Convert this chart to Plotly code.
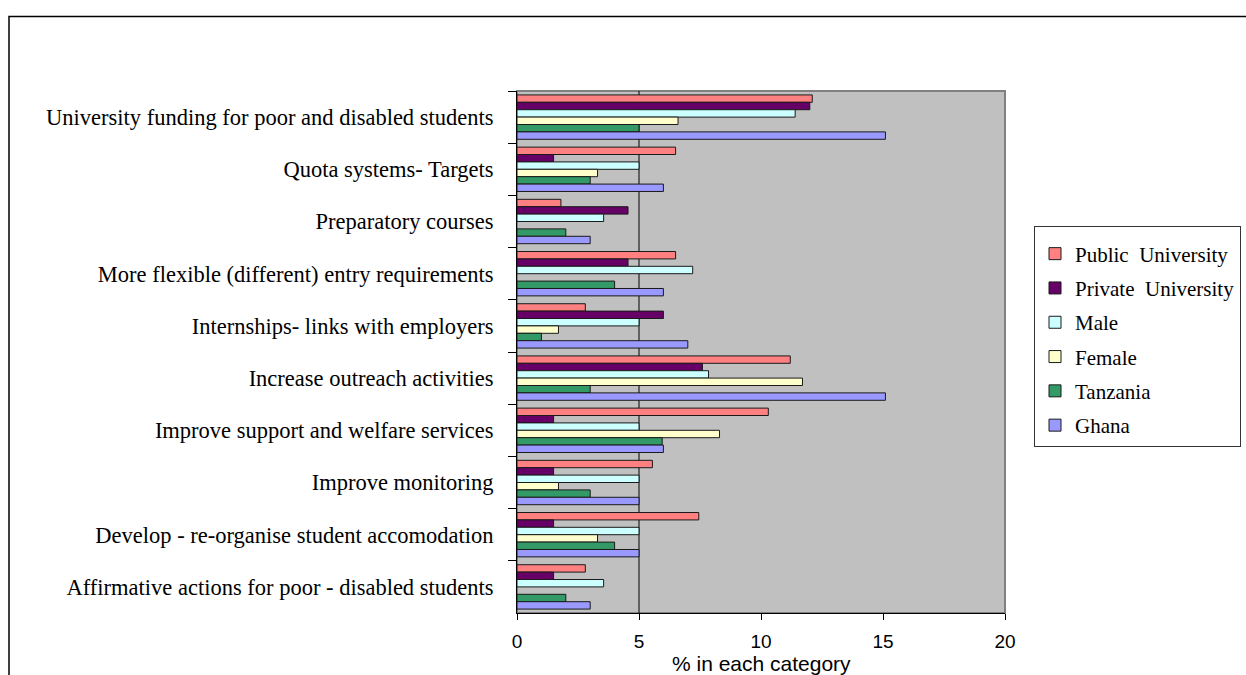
import plotly.graph_objects as go

categories = [
    "University funding for poor and disabled students",
    "Quota systems- Targets",
    "Preparatory courses",
    "More flexible (different) entry requirements",
    "Internships- links with employers",
    "Increase outreach activities",
    "Improve support and welfare services",
    "Improve monitoring",
    "Develop - re-organise student accomodation",
    "Affirmative actions for poor - disabled students",
]

public_university = [12.1, 6.5, 1.8, 6.5, 2.8, 11.2, 10.3, 5.55, 7.45, 2.8]
private_university = [12.0, 1.5, 4.55, 4.55, 6.0, 7.6, 1.5, 1.5, 1.5, 1.5]
male = [11.4, 5.0, 3.55, 7.2, 5.0, 7.85, 5.0, 5.0, 5.0, 3.55]
female = [6.6, 3.3, None, None, 1.7, 11.7, 8.3, 1.7, 3.3, None]
tanzania = [5.0, 3.0, 2.0, 4.0, 1.0, 3.0, 5.95, 3.0, 4.0, 2.0]
ghana = [15.1, 6.0, 3.0, 6.0, 7.0, 15.1, 6.0, 5.0, 5.0, 3.0]

series_names = ["Public\u00a0\u00a0University", "Private\u00a0\u00a0University", "Male", "Female", "Tanzania", "Ghana"]
series_values = [public_university, private_university, male, female, tanzania, ghana]
series_colors = ["#FF8080", "#660066", "#CCFFFF", "#FFFFCC", "#339966", "#9999FF"]

x_ticks = [0, 5, 10, 15, 20]

SERIF = "Liberation Serif"
SANS = "Liberation Sans"

fig = go.Figure()
for i, (name, vals, col) in enumerate(zip(series_names, series_values, series_colors)):
    fig.add_trace(go.Bar(
        y=categories, x=vals, name=name, orientation="h",
        marker=dict(color=col, line=dict(color="#1a1a1a", width=1)),
        legendgroup="g%d" % i,
    ))

W, H = 1246, 675
ml, mr, mt, mb = 517, 241, 91, 62
pw = W - ml - mr
ph = H - mt - mb

def px_x(p):
    return (p - ml) / pw

def px_y(p):
    return (H - mb - p) / ph

fig.update_layout(
    width=W, height=H,
    margin=dict(l=ml, r=mr, t=mt, b=mb, pad=0, autoexpand=False),
    paper_bgcolor="white",
    plot_bgcolor="#C0C0C0",
    barmode="group",
    bargap=0.15,
    bargroupgap=0,
    showlegend=True,
    legend=dict(
        xref="container", yref="container",
        x=1034 / W, xanchor="left", y=1 - 226 / H, yanchor="top",
        bordercolor="#333333", borderwidth=1, bgcolor="white",
        font=dict(family=SERIF, size=21, color="black"),
        title=dict(text="\u00a0", font=dict(size=5)),
        tracegroupgap=4, itemwidth=30,
    ),
    xaxis=dict(
        range=[0, 20], tickvals=x_ticks, ticktext=[str(v) for v in x_ticks],
        showgrid=False, zeroline=False,
        showline=True, linecolor="black", linewidth=1,
        ticks="outside", ticklen=6, tickcolor="black",
        tickfont=dict(family=SANS, size=19, color="black"),
        ticklabelstandoff=5,
        automargin=False, fixedrange=True,
    ),
    yaxis=dict(
        autorange="reversed", type="category",
        showgrid=False, zeroline=False,
        showline=True, linecolor="black", linewidth=1,
        ticks="outside", ticklen=8, tickcolor="black", tickson="boundaries",
        tickfont=dict(family=SERIF, size=22.5, color="black"),
        ticklabelstandoff=18,
        automargin=False, fixedrange=True,
    ),
    shapes=[
        dict(type="rect", xref="paper", yref="paper", x0=0, x1=1, y0=0, y1=1,
             line=dict(color="#808080", width=2), layer="below"),
        dict(type="line", xref="x", yref="paper", x0=5, x1=5, y0=0, y1=1,
             line=dict(color="black", width=1), layer="below"),
        dict(type="rect", xref="paper", yref="paper",
             x0=px_x(9), x1=px_x(1260), y0=px_y(690), y1=px_y(16.5),
             line=dict(color="black", width=1.5), fillcolor="rgba(0,0,0,0)"),
    ],
    annotations=[
        dict(text="% in each category", xref="paper", yref="paper",
             x=0.5, y=px_y(663), xanchor="center", yanchor="middle",
             showarrow=False, font=dict(family=SANS, size=21, color="black")),
    ],
)

fig.write_html("out.html")
